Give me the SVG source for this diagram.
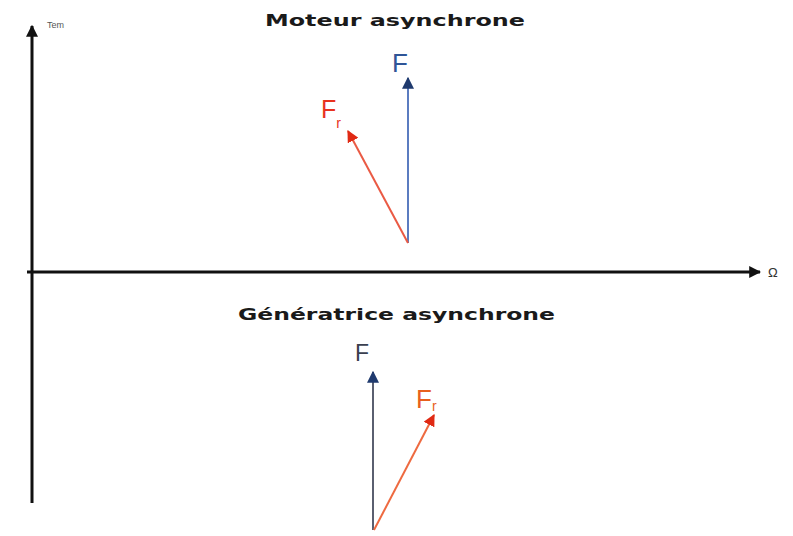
<svg xmlns="http://www.w3.org/2000/svg" width="793" height="536" viewBox="0 0 793 536">
<defs>
<style>
.axis{stroke:#111;stroke-width:3;fill:none}
.title{font-family:"DejaVu Sans",sans-serif;font-weight:bold;fill:#1a1a1a}
.lbl{font-family:"Liberation Sans",Arial,sans-serif}
</style>
<marker id="ak" viewBox="0 0 10 10" refX="9" refY="5" markerWidth="4" markerHeight="4" markerUnits="strokeWidth" orient="auto"><path d="M0,0 L10,5 L0,10 z" fill="#111"/></marker>
<marker id="ab" viewBox="0 0 10 10" refX="9" refY="5" markerWidth="6" markerHeight="6" markerUnits="strokeWidth" orient="auto"><path d="M0,0 L10,5 L0,10 z" fill="#1f3a6e"/></marker>
<marker id="ar" viewBox="0 0 10 10" refX="9" refY="5" markerWidth="6" markerHeight="6" markerUnits="strokeWidth" orient="auto"><path d="M0,0 L10,5 L0,10 z" fill="#e02a14"/></marker>
</defs>
<rect width="793" height="536" fill="#fff"/>
<g id="connectors">
<line class="axis" x1="32" y1="503" x2="32" y2="26" marker-end="url(#ak)"/>
<line class="axis" x1="27" y1="272" x2="760" y2="272" marker-end="url(#ak)"/>
<line x1="408" y1="243" x2="408" y2="78" stroke="#5b7cc0" stroke-width="2" marker-end="url(#ab)"/>
<line x1="408" y1="243" x2="348" y2="131" stroke="#ea5a44" stroke-width="2" marker-end="url(#ar)"/>
<line x1="373" y1="530" x2="373" y2="372" stroke="#5a5f70" stroke-width="2" marker-end="url(#ab)"/>
<line x1="374" y1="530" x2="434" y2="415" stroke="#ee6a40" stroke-width="2" marker-end="url(#ar)"/>
</g>
<g id="axis-labels">
<text class="lbl" x="47" y="28" font-size="9" fill="#555">Tem</text>
<text class="lbl" x="768" y="277" font-size="13" fill="#333">Ω</text>
</g>
<g id="moteur">
<text class="title" x="265" y="26" font-size="15" textLength="260" lengthAdjust="spacingAndGlyphs">Moteur asynchrone</text>
<text class="lbl" x="392" y="72" font-size="26" fill="#2f5597">F</text>
<text class="lbl" x="321" y="118" font-size="25" fill="#e8321e">F<tspan font-size="14" dy="10">r</tspan></text>
</g>
<g id="generatrice">
<text class="title" x="238" y="320" font-size="16" textLength="317" lengthAdjust="spacingAndGlyphs">Génératrice asynchrone</text>
<text class="lbl" x="355" y="361" font-size="23" fill="#3a3f4f">F</text>
<text class="lbl" x="416" y="408" font-size="26" fill="#e8601e">F<tspan font-size="14" dy="3">r</tspan></text>
</g>
</svg>
